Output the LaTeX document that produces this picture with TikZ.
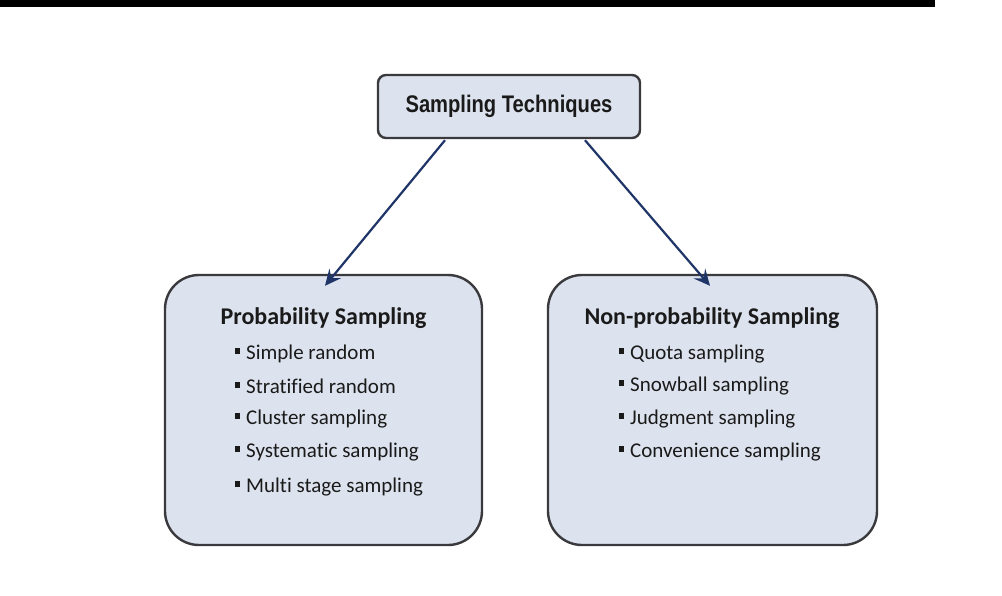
\documentclass[tikz,border=0pt]{standalone}
\usepackage{fontspec}
\setmainfont[Ligatures=NoCommon]{Carlito}
\newfontfamily\narrowbold[FakeStretch=0.84]{Liberation Sans Bold}
\usetikzlibrary{arrows.meta,positioning}
\definecolor{boxfill}{HTML}{DDE3EE}
\definecolor{boxline}{HTML}{3A3A3E}
\definecolor{arrowc}{HTML}{1F3568}
\definecolor{txt}{HTML}{1A1A1A}
\newcommand{\bul}{\raisebox{0.25em}{\rule{5pt}{6pt}}\hspace{6pt}}
\tikzset{
  bigbox/.style={draw=boxline, line width=2.4pt, fill=boxfill, rounded corners=34pt, inner sep=0pt},
  topbox/.style={draw=boxline, line width=2.4pt, fill=boxfill, rounded corners=8pt, inner sep=0pt,
                 minimum width=262pt, minimum height=63pt, text=txt, font=\narrowbold\fontsize{24}{26}\selectfont},
  head/.style={font=\bfseries\fontsize{24}{26}\selectfont, text=txt, inner sep=0pt},
  item/.style={font=\fontsize{21}{24}\selectfont, text=txt, anchor=west, inner sep=0pt},
  conn/.style={draw=arrowc, line width=2.2pt, -{Stealth[length=16pt,width=15pt,inset=6pt]}}
}
\begin{document}
\begin{tikzpicture}[x=1pt,y=-1pt]
\useasboundingbox (0,0) rectangle (1002,595);
\fill[white] (0,0) rectangle (1002,595);
\fill[black] (0,0) rectangle (935,7);
\node[topbox] (top) at (509,106.5) {Sampling Techniques};
\node[bigbox, minimum width=317pt, minimum height=270pt] (prob) at (323.5,410) {};
\node[bigbox, minimum width=329pt, minimum height=270pt] (nonprob) at (712.5,410) {};
\node[head] (probh) at (323.5,318) {Probability Sampling};
\node[item] (p1) at (235,354) {\bul Simple random};
\node[item] (p2) at (235,386) {\bul Stratified random};
\node[item] (p3) at (235,419) {\bul Cluster sampling};
\node[item] (p4) at (235,452) {\bul Systematic sampling};
\node[item] (p5) at (235,487) {\bul Multi stage sampling};
\node[head] (nonh) at (712,318) {Non-probability Sampling};
\node[item] (n1) at (619,354) {\bul Quota sampling};
\node[item] (n2) at (619,386) {\bul Snowball sampling};
\node[item] (n3) at (619,419) {\bul Judgment sampling};
\node[item] (n4) at (619,452) {\bul Convenience sampling};
\coordinate (ps) at ([xshift=-64pt,yshift=-1pt]top.south);
\coordinate (ns) at ([xshift=76pt,yshift=-1pt]top.south);
\coordinate (pe) at ([xshift=1.5pt,yshift=-12pt]prob.north);
\coordinate (ne) at ([xshift=-2.5pt,yshift=-12pt]nonprob.north);
\draw[conn] (ps) -- (pe);
\draw[conn] (ns) -- (ne);
\end{tikzpicture}
\end{document}
